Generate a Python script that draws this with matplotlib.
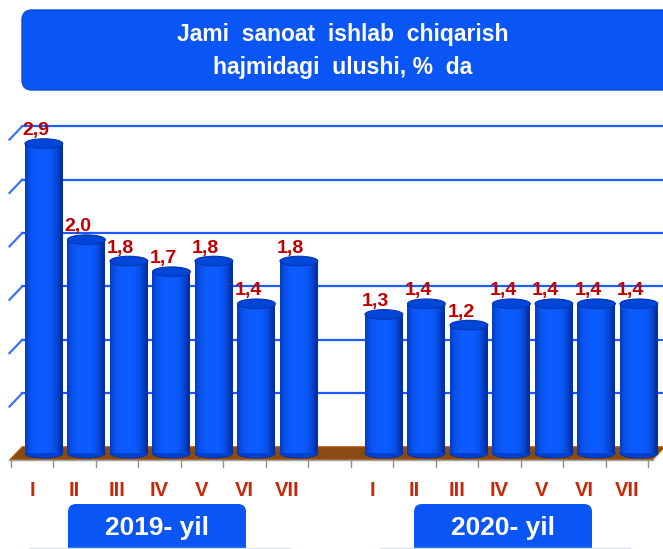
import numpy as np
import matplotlib.pyplot as plt
from matplotlib.patches import Ellipse, Polygon, FancyBboxPatch
from matplotlib.colors import to_rgb

plt.rcParams['font.family'] = ['Liberation Sans', 'DejaVu Sans']

# data
months = ['I', 'II', 'III', 'IV', 'V', 'VI', 'VII']
vals_2019 = [2.9, 2.0, 1.8, 1.7, 1.8, 1.4, 1.8]
vals_2020 = [1.3, 1.4, 1.2, 1.4, 1.4, 1.4, 1.4]
years = ['2019- yil', '2020- yil']
title = 'Jami  sanoat  ishlab  chiqarish\nhajmidagi  ulushi, %  da'

# slot positions: 7 months, one empty slot, 7 months
pos_2019 = np.arange(7)
pos_2020 = np.arange(8, 15)
positions = np.concatenate([pos_2019, pos_2020])
values = vals_2019 + vals_2020
labels = months + months

blue = '#0a55f5'
red = '#c00000'
tick_red = '#c8280a'

fig = plt.figure(figsize=(6.63, 5.49), dpi=100)

# decoration layer in pixel units
deco = fig.add_axes([0, 0, 1, 1], zorder=0)
deco.set_xlim(0, 663)
deco.set_ylim(549, 0)
deco.axis('off')
deco.add_patch(FancyBboxPatch((22, 10), 660, 80, boxstyle='round,pad=0,rounding_size=10',
                              fc=blue, ec='#0a48d8', lw=1))
deco.text(343, 51, title, color='white', fontsize=16.5, fontweight='bold',
          ha='center', va='center', linespacing=1.55)
for xc, yl in zip([157, 503], years):
    deco.add_patch(FancyBboxPatch((xc - 89, 504), 178, 52, boxstyle='round,pad=0,rounding_size=8',
                                  fc=blue, ec='none'))
    deco.text(xc, 528, yl, color='white', fontsize=19, fontweight='bold', ha='center', va='center')
deco.plot([30, 290], [548, 548], color='#d8e0f0', lw=1)
deco.plot([380, 630], [548, 548], color='#d8e0f0', lw=1)

# plot layer
ax = fig.add_axes([0, 0.1439, 1, 0.6466], zorder=1)
ax.patch.set_alpha(0)
xmin, xmax = -0.753, 14.847
ymin, ymax = -0.094, 3.23
dx, dy = 0.3, 0.125      # depth offset
x_fl, x_fr = -0.53, 14.6

# grid on back wall
for v in np.arange(0.5, 3.01, 0.5):
    ax.plot([x_fl + dx, xmax], [v + dy, v + dy], color='#1a5cff', lw=1.6, zorder=1)
    ax.plot([x_fl, x_fl + dx], [v, v + dy], color='#3a72ff', lw=1.6, zorder=1)

# floor
ax.add_patch(Polygon([(x_fl, 0), (x_fr, 0), (x_fr + dx, dy), (x_fl + dx, dy)],
                     closed=True, fc='#8a4a12', ec='#c06a20', lw=0.8, zorder=2))
ax.plot([x_fl, x_fr], [0, 0], color='#a0a0a0', lw=1, zorder=2)
for t in np.arange(16) - 0.5:
    ax.plot([t, t], [0, -0.065], color='#909090', lw=1, zorder=2, clip_on=False)

# cylinders
w = 0.89
eh = 0.09
base = dy / 2
c_dark = np.array(to_rgb('#0030a8'))
c_mid = np.array(to_rgb('#0c5cff'))
tt = np.linspace(-1, 1, 64)
shade = 1 - np.abs(tt + 0.1) ** 3
grad = c_dark[None, :] + (c_mid - c_dark)[None, :] * np.clip(shade, 0, 1)[:, None]
grad = grad[None, :, :]

for p, v in zip(positions, values):
    c = p + 0.28
    ax.add_patch(Ellipse((c, base), w, eh, fc='#0040d0', ec='#0030a0', lw=0.6, zorder=3))
    ax.imshow(grad, extent=(c - w / 2, c + w / 2, base, base + v), aspect='auto',
              interpolation='bilinear', zorder=4)
    ax.add_patch(Ellipse((c, base + v), w, eh, fc='#0046d8', ec='#0036b0', lw=0.8, zorder=5))
    ax.text(c - 0.19, base + v + eh / 2 + 0.035, f'{v:.1f}'.replace('.', ','),
            color=red, fontsize=14, fontweight='bold', ha='center', va='baseline', zorder=6)

ax.set_xlim(xmin, xmax)
ax.set_ylim(ymin, ymax)
ax.set_xticks(positions, labels=labels)
ax.tick_params(axis='x', length=0, pad=8, labelsize=14.5, labelcolor=tick_red)
for lb in ax.get_xticklabels():
    lb.set_fontweight('bold')
ax.set_yticks([])
for s in ax.spines.values():
    s.set_visible(False)

fig.savefig('out.png', dpi=100, facecolor='white')
